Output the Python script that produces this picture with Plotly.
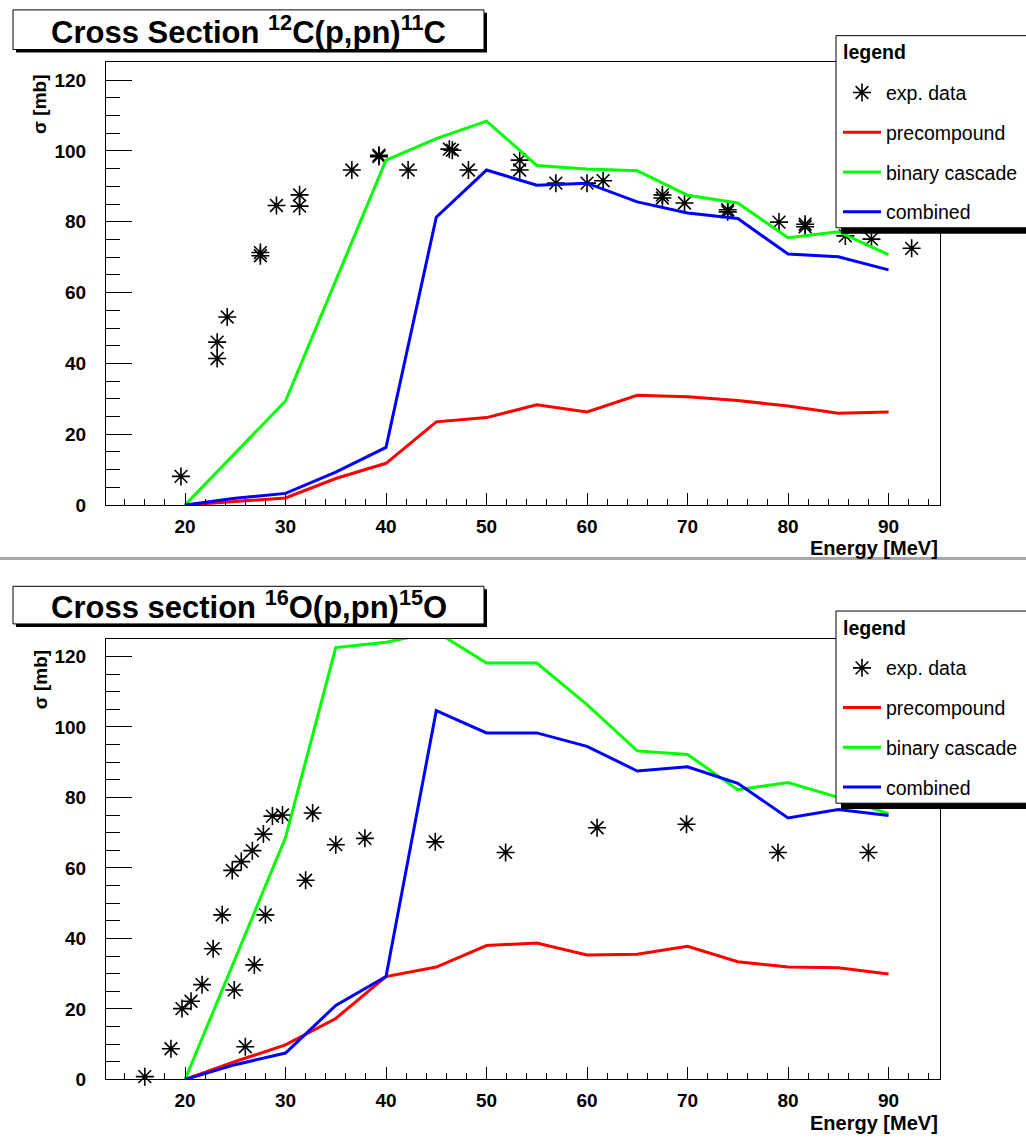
import plotly.graph_objects as go

W, H = 1026, 1140
FONT = "Liberation Sans"

# ---------------- data: 12C(p,pn)11C ----------------
c_exp_E = [19.6, 23.2, 23.2, 24.2, 27.5, 27.5, 29.1, 31.4, 31.4, 36.6, 39.3, 39.3,
           42.2, 46.3, 46.6, 48.2, 53.3, 53.3, 56.9, 60.0, 61.6, 67.5, 67.5, 69.7,
           74.0, 74.0, 79.1, 81.7, 81.7, 85.7, 88.3, 92.3]
c_exp_sigma = [8.1, 41.4, 46.0, 53.1, 70.4, 71.3, 84.6, 84.4, 87.6, 94.6, 98.4, 98.8,
               94.6, 100.5, 100.2, 94.6, 94.6, 97.4, 90.9, 90.9, 91.6, 86.7, 87.6, 85.3,
               82.8, 83.4, 79.9, 78.6, 79.3, 76.0, 75.1, 72.5]

c_pre_E = [20, 25, 30, 35, 40, 45, 50, 55, 60, 65, 70, 75, 80, 85, 90]
c_pre = [0, 0.9, 2.0, 7.5, 11.8, 23.5, 24.7, 28.3, 26.3, 31.0, 30.6, 29.5, 28.0, 25.9, 26.3]

c_bin_E = [20, 30, 40, 45, 50, 55, 60, 65, 70, 75, 80, 85, 90]
c_bin = [0, 29.4, 97.4, 103.5, 108.4, 95.9, 94.9, 94.4, 87.5, 85.3, 75.5, 77.2, 70.7]

c_comb_E = [20, 25, 30, 35, 40, 45, 50, 55, 60, 65, 70, 75, 80, 85, 90]
c_comb = [0, 1.9, 3.3, 9.3, 16.3, 81.3, 94.6, 90.3, 90.9, 85.6, 82.5, 80.9, 70.9, 70.1, 66.4]

# ---------------- data: 16O(p,pn)15O ----------------
o_exp_E = [16.0, 18.6, 19.7, 20.6, 21.7, 22.8, 23.7, 24.7, 24.9, 25.6, 26.0, 26.7,
           26.9, 27.8, 28.0, 28.7, 29.7, 32.0, 32.7, 35.0, 37.9, 44.9, 51.9, 61.0,
           69.9, 79.0, 88.0]
o_exp_sigma = [0.8, 8.7, 20.1, 22.2, 26.9, 37.1, 46.7, 59.3, 25.4, 61.8, 9.3, 64.9,
               32.5, 69.6, 46.7, 74.7, 75.0, 56.5, 75.6, 66.6, 68.4, 67.4, 64.4, 71.4,
               72.4, 64.4, 64.4]

o_pre_E = [20, 25, 30, 35, 40, 45, 50, 55, 60, 65, 70, 75, 80, 85, 90]
o_pre = [0, 5.1, 9.8, 17.3, 29.2, 31.9, 38.0, 38.7, 35.3, 35.5, 37.8, 33.4, 31.9, 31.7, 29.9]

o_bin_E = [20, 30, 35, 40, 45, 50, 55, 60, 65, 70, 75, 80, 85, 90]
o_bin = [0, 68.6, 122.5, 124.0, 127.0, 118.1, 118.1, 106.3, 93.2, 92.2, 82.2, 84.2, 80.0, 75.4]

o_comb_E = [20, 25, 30, 35, 40, 45, 50, 55, 60, 65, 70, 75, 80, 85, 90]
o_comb = [0, 4.2, 7.5, 21.0, 29.2, 104.6, 98.3, 98.3, 94.5, 87.5, 88.7, 84.0, 74.2, 76.6, 74.9]

titles = ["<b>Cross Section <sup>12</sup>C(p,pn)<sup>11</sup>C</b>",
          "<b>Cross section <sup>16</sup>O(p,pn)<sup>15</sup>O</b>"]
series_names = ["exp. data", "precompound", "binary cascade", "combined"]
legend_title = "<b>legend</b>"
x_title = "<b>Energy [MeV]</b>"
y_title = "<b>σ [mb]</b>"
x_range = [12.14, 95.12]
y_range = [0, 125]


def px(p):
    return p / W


def py(p):
    return 1 - p / H


fig = go.Figure()

panels = [
    dict(xa="x", ya="y", leg="legend", off=0, title=titles[0],
         exp=(c_exp_E, c_exp_sigma), pre=(c_pre_E, c_pre), bin=(c_bin_E, c_bin),
         comb=(c_comb_E, c_comb)),
    dict(xa="x2", ya="y2", leg="legend2", off=581, title=titles[1],
         exp=(o_exp_E, o_exp_sigma), pre=(o_pre_E, o_pre), bin=(o_bin_E, o_bin),
         comb=(o_comb_E, o_comb)),
]

colors = {"pre": "#ff0000", "bin": "#00ff00", "comb": "#0000ff"}

for i, p in enumerate(panels):
    common = dict(xaxis=p["xa"], yaxis=p["ya"], legend=p["leg"])
    ex, ey = p["exp"]
    fig.add_trace(go.Scatter(x=ex, y=ey, mode="markers", name=series_names[0],
                             legendgroup=f"p{i}a", cliponaxis=False,
                             marker=dict(symbol="asterisk-open", size=15, color="black",
                                         line=dict(width=1.6, color="black")),
                             **common))
    fig.add_trace(go.Scatter(x=ex, y=ey, mode="markers", showlegend=False,
                             legendgroup=f"p{i}a", cliponaxis=False,
                             marker=dict(symbol="circle", size=4, color="black"),
                             **common))
    for key, nm, g in [("pre", series_names[1], "b"), ("bin", series_names[2], "c"),
                       ("comb", series_names[3], "d")]:
        lx, ly = p[key]
        fig.add_trace(go.Scatter(x=lx, y=ly, mode="lines", name=nm,
                                 legendgroup=f"p{i}{g}",
                                 line=dict(color=colors[key], width=3), **common))

axis_common = dict(showline=True, mirror=True, linecolor="black", linewidth=1,
                   showgrid=False, zeroline=False, ticks="inside", tickcolor="black",
                   tickwidth=1,
                   tickfont=dict(family=FONT, size=19, color="black", weight="bold"))

y_domains = [[py(510), py(63)], [py(1090), py(645)]]
for i, p in enumerate(panels):
    sfx = "" if i == 0 else "2"
    fig.layout["xaxis" + sfx] = dict(
        domain=[px(106), px(940)], range=x_range, anchor="y" + sfx,
        dtick=10, tick0=0, ticklen=12, ticklabelstandoff=4,
        minor=dict(dtick=2, tick0=0, ticklen=6, ticks="inside", tickcolor="black",
                   tickwidth=1, showgrid=False),
        **axis_common)
    fig.layout["yaxis" + sfx] = dict(
        domain=y_domains[i], range=y_range, anchor="x" + sfx,
        dtick=20, tick0=0, ticklen=26, ticklabelstandoff=15,
        minor=dict(dtick=5, tick0=0, ticklen=14, ticks="inside", tickcolor="black",
                   tickwidth=1, showgrid=False),
        **axis_common)

shapes = []
annotations = []
for i, p in enumerate(panels):
    o = p["off"]
    tb_top = 10 if i == 0 else 592
    tb_bot = 50 if i == 0 else 630
    # title box shadow + box
    shapes.append(dict(type="rect", xref="paper", yref="paper", layer="above",
                       x0=px(16), x1=px(487), y0=py(tb_top + 3), y1=py(tb_bot + 3),
                       fillcolor="black", line=dict(width=0)))
    shapes.append(dict(type="rect", xref="paper", yref="paper", layer="above",
                       x0=px(13), x1=px(484), y0=py(tb_top), y1=py(tb_bot),
                       fillcolor="white", line=dict(color="black", width=1)))
    annotations.append(dict(text=p["title"], xref="paper", yref="paper",
                            x=px(248.5), y=py((tb_top + tb_bot) / 2), xanchor="center",
                            yanchor="middle", showarrow=False,
                            font=dict(family=FONT, size=31, color="black")))
    # legend box shadow + box
    shapes.append(dict(type="rect", xref="paper", yref="paper", layer="above",
                       x0=px(841), x1=px(1040), y0=py(41 + o), y1=py(236 + o),
                       fillcolor="black", line=dict(width=0)))
    shapes.append(dict(type="rect", xref="paper", yref="paper", layer="above",
                       x0=px(836), x1=px(1040), y0=py(36 + o), y1=py(230 + o),
                       fillcolor="white", line=dict(color="black", width=1)))
    annotations.append(dict(text=legend_title, xref="paper", yref="paper",
                            x=px(841), y=py(53 + o), xanchor="left", yanchor="middle",
                            showarrow=False,
                            font=dict(family=FONT, size=19.5, color="black")))
    # axis titles
    annotations.append(dict(text=x_title, xref="paper", yref="paper",
                            x=px(940), y=py(553 + o), xanchor="right", yanchor="middle",
                            showarrow=False,
                            font=dict(family=FONT, size=20, color="black")))
    annotations.append(dict(text=y_title, xref="paper", yref="paper", textangle=-90,
                            x=px(40), y=py(106 + o), xanchor="center", yanchor="middle",
                            showarrow=False,
                            font=dict(family=FONT, size=19, color="black")))

# separator between the two pads
shapes.append(dict(type="line", xref="paper", yref="paper", layer="above",
                   x0=0, x1=1, y0=py(564), y1=py(564),
                   line=dict(color="#a8a8a8", width=3)))

leg_common = dict(xanchor="left", yanchor="top", bgcolor="rgba(0,0,0,0)",
                  borderwidth=0, font=dict(family=FONT, size=19.5, color="black"),
                  tracegroupgap=11.4, itemwidth=38, traceorder="grouped")

fig.update_layout(
    width=W, height=H, autosize=False,
    margin=dict(l=0, r=0, t=0, b=0, pad=0),
    paper_bgcolor="white", plot_bgcolor="white",
    shapes=shapes, annotations=annotations,
    legend=dict(x=px(838), y=py(74), **leg_common),
    legend2=dict(x=px(838), y=py(74 + 581), **leg_common),
)

fig.write_html("out.html")
